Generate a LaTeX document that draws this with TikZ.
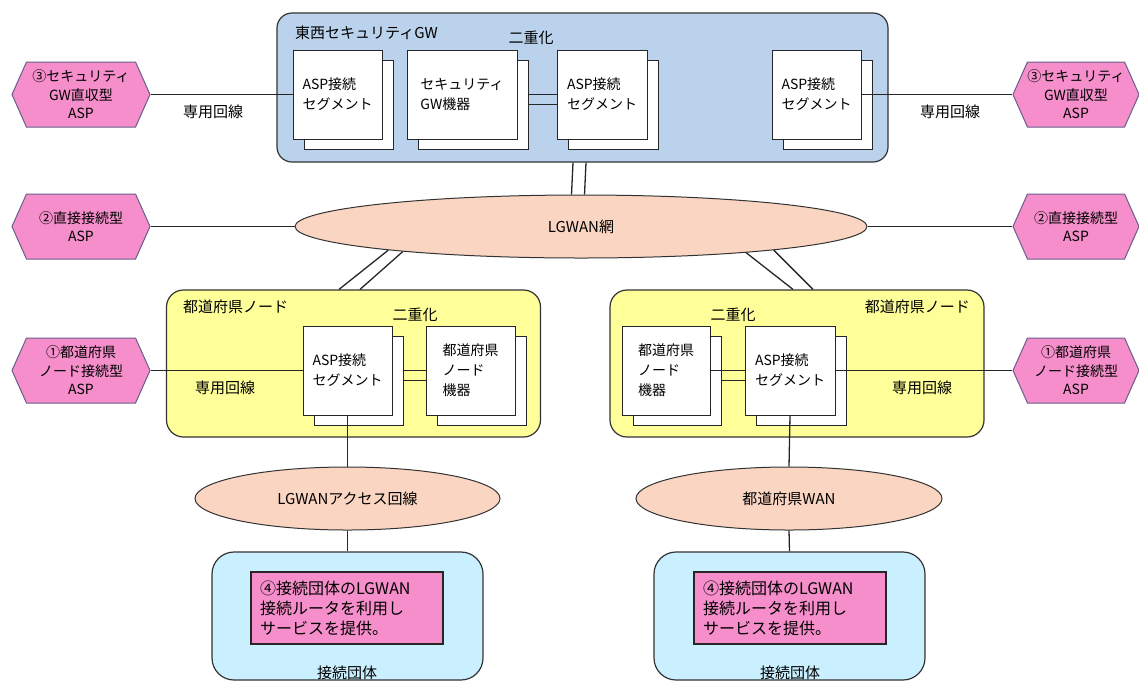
\documentclass[tikz,border=0pt]{standalone}
\usepackage{fontspec}
\setmainfont{Noto Sans CJK JP}
\usetikzlibrary{shapes.geometric,shapes.symbols}
\definecolor{gwblue}{RGB}{186,210,236}
\definecolor{prefyellow}{RGB}{255,255,153}
\definecolor{netpeach}{RGB}{250,213,194}
\definecolor{asppink}{RGB}{245,142,202}
\definecolor{hexline}{RGB}{105,95,140}
\definecolor{orgcyan}{RGB}{202,240,255}

\begin{document}
\begin{tikzpicture}[x=1pt,y=-1pt]
	\tikzstyle{every node}+=[inner sep=0pt]
	\tikzstyle{gwbox}=[draw=black!80,fill=gwblue,rounded corners=15pt,line width=1.2pt]
	\tikzstyle{prefbox}=[draw=black!80,fill=prefyellow,rounded corners=17pt,line width=1.2pt,minimum width=374,minimum height=147]
	\tikzstyle{orgbox}=[draw=black!80,fill=orgcyan,rounded corners=22pt,line width=1.2pt,minimum width=271,minimum height=128]
	\tikzstyle{segback}=[draw=black!85,fill=white,line width=1pt,minimum height=89]
	\tikzstyle{segfront}=[draw=black!85,fill=white,line width=1pt,minimum height=89,align=left,font=\fontsize{14}{20}\selectfont]
	\tikzstyle{netcloud}=[ellipse,draw=black!80,fill=netpeach,line width=1pt,minimum height=63,font=\fontsize{15}{18}\selectfont]
	\tikzstyle{asphex}=[signal,signal to=west and east,signal pointer angle=132,draw=hexline,fill=asppink,line width=1pt,minimum height=65,align=center,font=\fontsize{14}{18.5}\selectfont]
	\tikzstyle{notebox}=[draw=black!85,fill=asppink,line width=1.2pt,minimum height=72,text width=174,inner xsep=9pt,align=left,font=\fontsize{16}{20}\selectfont]
	\tikzstyle{lbl}=[font=\fontsize{15}{18}\selectfont]
	\tikzstyle{wire}=[black!85,line width=1.3pt]
	\useasboundingbox (0,0) rectangle (1139,681);

	\node [gwbox,minimum width=611,minimum height=149] (gw) at (582.5,87.5) {};
	\node [lbl,anchor=west] (gwtitle) at (295,33) {東西セキュリティGW};
	\node [lbl] (dup1) at (531,38) {二重化};
	\node [segback,minimum width=89] (a1b) at (348.5,104.5) {};
	\node [segfront,minimum width=89] (a1) at (337.5,94.5) {ASP接続\\セグメント};
	\node [segback,minimum width=110] (g1b) at (473,104.5) {};
	\node [segfront,minimum width=110] (g1) at (462,94.5) {セキュリティ\\GW機器};
	\node [segback,minimum width=90] (a2b) at (613,104.5) {};
	\node [segfront,minimum width=90] (a2) at (602,94.5) {ASP接続\\セグメント};
	\node [segback,minimum width=89] (a3b) at (827.5,104.5) {};
	\node [segfront,minimum width=89] (a3) at (816.5,94.5) {ASP接続\\セグメント};

	\node [asphex,minimum width=138] (h3l) at (81,94.5) {③セキュリティ\\GW直収型\\ASP};
	\node [asphex,minimum width=126] (h3r) at (1076,94.5) {③セキュリティ\\GW直収型\\ASP};
	\node [lbl] (lease1) at (213,112) {専用回線};
	\node [lbl] (lease2) at (950,112) {専用回線};

	\node [netcloud,minimum width=572] (lgwan) at (581,226.5) {LGWAN網};
	\node [asphex,minimum width=138] (h2l) at (81,226.5) {②直接接続型\\ASP};
	\node [asphex,minimum width=126] (h2r) at (1076,226.5) {②直接接続型\\ASP};

	\node [prefbox] (pn1) at (353.5,363.5) {};
	\node [lbl,anchor=west] (pn1title) at (183,307) {都道府県ノード};
	\node [lbl] (dup2) at (415,315) {二重化};
	\node [segback,minimum width=89] (pa1b) at (358.5,380.5) {};
	\node [segfront,minimum width=89] (pa1) at (347.5,370.5) {ASP接続\\セグメント};
	\node [segback,minimum width=89] (pk1b) at (481.5,380.5) {};
	\node [segfront,minimum width=89] (pk1) at (470.5,370.5) {都道府県\\ノード\\機器};
	\node [asphex,minimum width=138] (h1l) at (81,370.5) {①都道府県\\ノード接続型\\ASP};
	\node [lbl] (lease3) at (225,388) {専用回線};

	\node [prefbox] (pn2) at (797,363.5) {};
	\node [lbl,anchor=east] (pn2title) at (970,307) {都道府県ノード};
	\node [lbl] (dup3) at (733,315) {二重化};
	\node [segback,minimum width=88] (pk2b) at (677,380.5) {};
	\node [segfront,minimum width=88] (pk2) at (666,370.5) {都道府県\\ノード\\機器};
	\node [segback,minimum width=90] (pa2b) at (801,380.5) {};
	\node [segfront,minimum width=90] (pa2) at (790,370.5) {ASP接続\\セグメント};
	\node [asphex,minimum width=126] (h1r) at (1076,370.5) {①都道府県\\ノード接続型\\ASP};
	\node [lbl] (lease4) at (922,388) {専用回線};

	\node [netcloud,minimum width=305] (acc) at (347.5,498.5) {LGWANアクセス回線};
	\node [netcloud,minimum width=306] (pwan) at (789,498.5) {都道府県WAN};
	\node [orgbox] (org1) at (347.5,616) {};
	\node [orgbox] (org2) at (789.5,616) {};
	\node [notebox] (note1) at (347,608) {④接続団体のLGWAN\\接続ルータを利用し\\サービスを提供。};
	\node [notebox] (note2) at (790,608) {④接続団体のLGWAN\\接続ルータを利用し\\サービスを提供。};
	\node [lbl] (org1name) at (347,673) {接続団体};
	\node [lbl] (org2name) at (790,673) {接続団体};

	\draw [wire] (h3l.east) -- (a1.west);
	\draw [wire] (a3.east) -- (h3r.west);
	\draw [wire] (g1b.east |- a2.west) -- (a2.west);
	\draw [wire] (g1b.east) -- (a2.west |- g1b.east);
	\draw [wire] ([xshift=-9.5pt]gw.south) -- ([xshift=-9.5pt]lgwan.north);
	\draw [wire] ([xshift=3.5pt]gw.south) -- ([xshift=3.5pt]lgwan.north);
	\draw [wire] (h2l.east) -- (lgwan.west);
	\draw [wire] (lgwan.east) -- (h2r.west);
	\draw [wire] (lgwan.187) -- ([xshift=-14.5pt]pn1.north);
	\draw [wire] (lgwan.188) -- ([xshift=6.5pt]pn1.north);
	\draw [wire] (lgwan.351) -- ([xshift=-4pt]pn2.north);
	\draw [wire] (lgwan.353) -- ([xshift=16pt]pn2.north);
	\draw [wire] (h1l.east) -- (pa1.west);
	\draw [wire] (pa1b.east |- pk1.west) -- (pk1.west);
	\draw [wire] (pa1b.east) -- (pk1.west |- pa1b.east);
	\draw [wire] (pk2.east) -- (pa2.west);
	\draw [wire] (pk2b.east) -- (pa2.west |- pk2b.east);
	\draw [wire] (pa2.east) -- (h1r.west);
	\draw [wire] (pa1.south) -- (acc.north);
	\draw [wire] (acc.south) -- (org1.north);
	\draw [wire] (pa2.south) -- (pwan.north);
	\draw [wire] (pwan.south) -- (org2.north);
\end{tikzpicture}
\end{document}
